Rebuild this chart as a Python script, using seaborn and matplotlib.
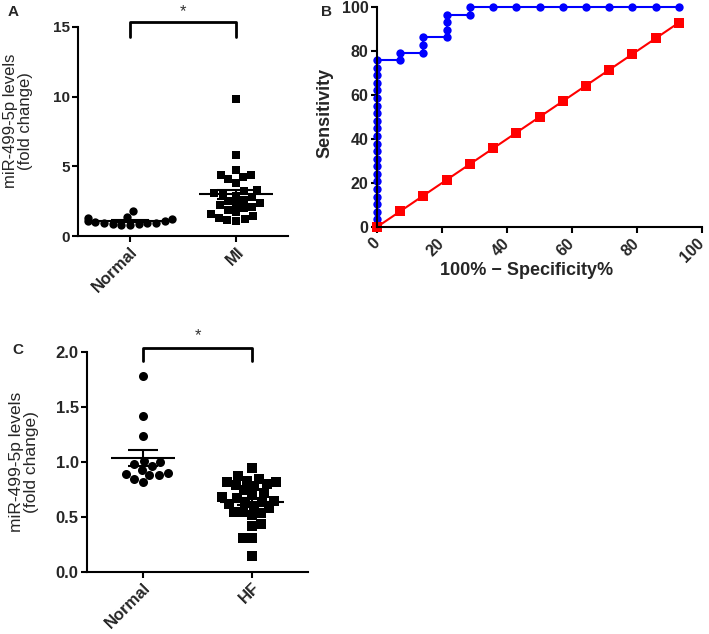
import numpy as np
import pandas as pd
import matplotlib
matplotlib.use("Agg")
import matplotlib.pyplot as plt
import seaborn as sns

sns.set_theme(style="ticks")
plt.rcParams["font.family"] = ["Liberation Sans", "DejaVu Sans"]

# ---- panel A: Normal vs MI ----
groups_a = ["Normal", "MI"]
normal_a = [1.78, 1.35, 1.30, 1.20, 1.10, 1.05, 1.00, 0.95, 0.90, 0.90, 0.85, 0.85, 0.80, 0.80]
mi_a = [9.85, 5.80, 4.75, 4.40, 4.35, 4.20, 4.10, 3.80, 3.30, 3.20, 3.10, 3.00, 2.90, 2.80,
        2.60, 2.50, 2.40, 2.30, 2.20, 2.10, 2.00, 1.90, 1.70, 1.60, 1.40, 1.30, 1.25, 1.15, 1.10]

# ---- panel B: ROC curve ----
roc_x = [0, 0, 0, 0, 0, 0, 0, 0, 0, 0, 0, 0, 0, 0, 0, 0, 0, 0, 0, 0, 0, 0, 0,
         7.14, 7.14, 14.29, 14.29, 14.29, 21.43, 21.43, 21.43, 21.43, 28.57, 28.57,
         35.71, 42.86, 50.0, 57.14, 64.29, 71.43, 78.57, 85.71, 92.86]
roc_y = [0, 3.45, 6.90, 10.34, 13.79, 17.24, 20.69, 24.14, 27.59, 31.03, 34.48, 37.93,
         41.38, 44.83, 48.28, 51.72, 55.17, 58.62, 62.07, 65.52, 68.97, 72.41, 75.86,
         75.86, 79.31, 79.31, 82.76, 86.21, 86.21, 89.66, 93.10, 96.55, 96.55, 100,
         100, 100, 100, 100, 100, 100, 100, 100, 100]
ref_x = [0, 7.14, 14.29, 21.43, 28.57, 35.71, 42.86, 50.0, 57.14, 64.29, 71.43, 78.57, 85.71, 92.86]
ref_y = [0, 7.14, 14.29, 21.43, 28.57, 35.71, 42.86, 50.0, 57.14, 64.29, 71.43, 78.57, 85.71, 92.86]

# ---- panel C: Normal vs HF ----
groups_c = ["Normal", "HF"]
normal_c = [1.78, 1.42, 1.24, 1.01, 1.00, 0.98, 0.96, 0.93, 0.90, 0.89, 0.88, 0.88, 0.85, 0.82]
hf_c = [0.95, 0.87, 0.85, 0.83, 0.82, 0.82, 0.80, 0.79, 0.78, 0.75, 0.72, 0.70, 0.68, 0.67,
        0.65, 0.64, 0.63, 0.62, 0.60, 0.58, 0.55, 0.55, 0.54, 0.52, 0.44, 0.42, 0.31, 0.31, 0.15]

W, H = 709, 634


def px_axes(fig, x0, y0, x1, y1):
    # axes from pixel box (left, top, right, bottom)
    return fig.add_axes([x0 / W, 1 - y1 / H, (x1 - x0) / W, (y1 - y0) / H])


def style_axes(ax, fs_x, fs_y):
    sns.despine(ax=ax)
    for s in ["left", "bottom"]:
        ax.spines[s].set_linewidth(1.5)
        ax.spines[s].set_color("black")
    ax.tick_params(direction="out", length=4, width=1.5, color="black", pad=2)
    ax.tick_params(axis="x", labelsize=fs_x)
    ax.tick_params(axis="y", labelsize=fs_y)
    for lab in ax.get_xticklabels() + ax.get_yticklabels():
        lab.set_fontweight("bold")


def dot_panel(ax, groups, first, second, size, half=0.3, cap=0.15):
    df = pd.DataFrame({
        "group": [groups[0]] * len(first) + [groups[1]] * len(second),
        "value": first + second,
    })
    sns.swarmplot(data=df[df["group"] == groups[0]], x="group", y="value", order=groups,
                  marker="o", color="black", size=size, ax=ax, warn_thresh=1)
    sns.swarmplot(data=df[df["group"] == groups[1]], x="group", y="value", order=groups,
                  marker="s", color="black", size=size, ax=ax, warn_thresh=1)
    for i, vals in enumerate([first, second]):
        v = np.array(vals)
        m = v.mean()
        se = v.std(ddof=1) / np.sqrt(len(v))
        ax.hlines(m, i - half, i + half, color="black", lw=1.5, zorder=5)
        ax.hlines([m - se, m + se], i - cap, i + cap, color="black", lw=1.5, zorder=5)
        ax.vlines(i, m - se, m + se, color="black", lw=1.5, zorder=5)
    ax.set_xlabel("")
    ax.set_ylabel("")


fig = plt.figure(figsize=(W / 100, H / 100), dpi=100)

# ---------- A ----------
ax_a = px_axes(fig, 78, 27, 288, 236)
dot_panel(ax_a, groups_a, normal_a, mi_a, size=6, half=0.35, cap=0.18)
ax_a.set_xlim(-0.49, 1.49)
ax_a.set_ylim(0, 15)
ax_a.set_yticks([0, 5, 10, 15])
ax_a.set_xticks([0, 1])
ax_a.set_xticklabels(groups_a, rotation=45, ha="right", rotation_mode="anchor")
style_axes(ax_a, 12, 11)
ax_a.set_ylabel("miR-499-5p levels\n(fold change)", fontsize=12, linespacing=1.0)
ax_a.yaxis.set_label_coords(-0.215, 0.55)
ax_a.plot([0, 0, 1, 1], [14.3, 15.36, 15.36, 14.3], color="black", lw=2, clip_on=False)
ax_a.text(0.5, 16.1, "*", ha="center", va="center", fontsize=12, color="#333333")

# ---------- B ----------
ax_b = px_axes(fig, 377, 7, 702, 227)
sns.lineplot(x=roc_x, y=roc_y, sort=False, estimator=None, color="#0000ff", lw=1.5,
             marker="o", markersize=6, markeredgewidth=0, clip_on=False, ax=ax_b)
sns.lineplot(x=ref_x, y=ref_y, sort=False, estimator=None, color="#ff0000", lw=1.5,
             marker="s", markersize=6.5, markeredgewidth=0, clip_on=False, ax=ax_b)
ax_b.set_xlim(0, 100)
ax_b.set_ylim(0, 100)
ax_b.set_xticks(range(0, 101, 20))
ax_b.set_yticks(range(0, 101, 20))
ax_b.set_xticklabels([str(t) for t in range(0, 101, 20)], rotation=45, ha="right",
                     va="center", rotation_mode="anchor")
style_axes(ax_b, 11.5, 11.5)
ax_b.tick_params(axis="x", pad=6)
ax_b.set_xlabel("100% \u2212 Specificity%", fontsize=13, fontweight="bold")
ax_b.xaxis.set_label_coords(0.46, -0.16)
ax_b.set_ylabel("Sensitivity", fontsize=13, fontweight="bold")
ax_b.yaxis.set_label_coords(-0.135, 0.52)

# ---------- C ----------
ax_c = px_axes(fig, 87, 352, 308, 572)
dot_panel(ax_c, groups_c, normal_c, hf_c, size=6.5, half=0.29, cap=0.14)
ax_c.set_xlim(-0.514, 1.514)
ax_c.set_ylim(0, 2)
ax_c.set_yticks([0, 0.5, 1.0, 1.5, 2.0])
ax_c.set_yticklabels(["0.0", "0.5", "1.0", "1.5", "2.0"])
ax_c.set_xticks([0, 1])
ax_c.set_xticklabels(groups_c, rotation=45, ha="right", rotation_mode="anchor")
style_axes(ax_c, 12, 12)
ax_c.set_ylabel("miR-499-5p levels\n(fold change)", fontsize=12.5, linespacing=1.0)
ax_c.yaxis.set_label_coords(-0.215, 0.5)
ax_c.plot([0, 0, 1, 1], [1.92, 2.04, 2.04, 1.92], color="black", lw=2, clip_on=False)
ax_c.text(0.5, 2.15, "*", ha="center", va="center", fontsize=12, color="#333333")

# panel letters
fig.text(13 / W, 1 - 12 / H, "A", fontsize=11, fontweight="bold", ha="center", va="center")
fig.text(326 / W, 1 - 12 / H, "B", fontsize=11, fontweight="bold", ha="center", va="center")
fig.text(18 / W, 1 - 350 / H, "C", fontsize=11, fontweight="bold", ha="center", va="center")

fig.savefig("out.png", dpi=100)
